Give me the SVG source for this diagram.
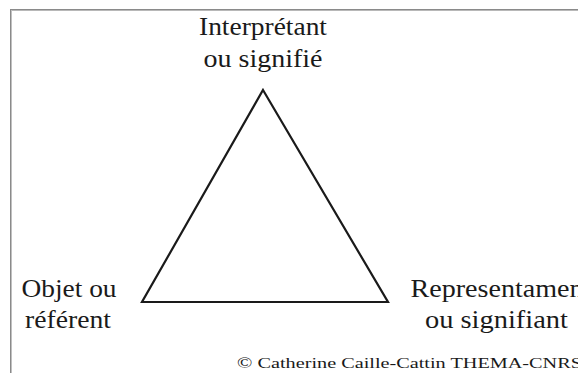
<svg xmlns="http://www.w3.org/2000/svg" width="578" height="373" viewBox="0 0 578 373">
<style>
.lbl{font-family:"Liberation Serif","Times New Roman",serif;font-size:25px;fill:#1a1a1a;text-anchor:middle}
.cp{font-family:"Liberation Serif","Times New Roman",serif;font-size:15px;fill:#1a1a1a}
.edge{fill:none;stroke:#1a1a1a;stroke-width:2.2;stroke-linejoin:miter}
</style>
<rect width="578" height="373" fill="#ffffff"/>
<g id="frame">
<line x1="10" y1="9.5" x2="578" y2="9.5" stroke="#8a8a8a" stroke-width="1"/>
<line x1="11" y1="10.5" x2="578" y2="10.5" stroke="#b8b8b8" stroke-width="1"/>
<line x1="10.5" y1="9" x2="10.5" y2="373" stroke="#8a8a8a" stroke-width="1"/>
<line x1="11.5" y1="10" x2="11.5" y2="373" stroke="#c0c0c0" stroke-width="1"/>
</g>
<g id="connectors">
<path class="edge" d="M263 90 L388 302 L142 302 Z"/>
</g>
<g id="interpretant">
<text class="lbl" x="263" y="35" textLength="128" lengthAdjust="spacingAndGlyphs">Interprétant</text>
<text class="lbl" x="263" y="67" textLength="119" lengthAdjust="spacingAndGlyphs">ou signifié</text>
</g>
<g id="objet">
<text class="lbl" x="69" y="297" textLength="95" lengthAdjust="spacingAndGlyphs">Objet ou</text>
<text class="lbl" x="68" y="328" textLength="86" lengthAdjust="spacingAndGlyphs">référent</text>
</g>
<g id="representamen">
<text class="lbl" x="497" y="297" textLength="173" lengthAdjust="spacingAndGlyphs">Representamen</text>
<text class="lbl" x="496.5" y="328" textLength="143" lengthAdjust="spacingAndGlyphs">ou signifiant</text>
</g>
<g id="copyright">
<text class="cp" x="237" y="368" textLength="345" lengthAdjust="spacingAndGlyphs">© Catherine Caille-Cattin THEMA-CNRS</text>
</g>
</svg>
